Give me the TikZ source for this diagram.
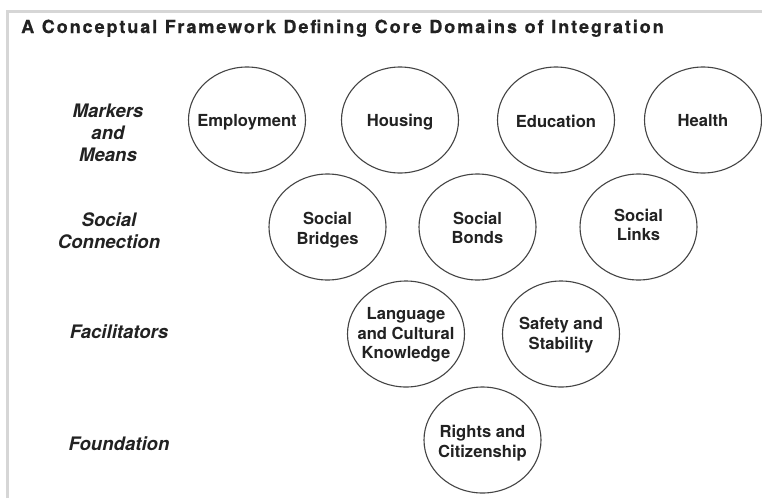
\documentclass[tikz,border=0pt]{standalone}
\usepackage{fontspec}
\setmainfont{TeX Gyre Heros}
\newfontfamily\titlefont[LetterSpace=10.8,WordSpace=1.1,FakeBold=0.6]{TeX Gyre Heros}
\usetikzlibrary{shapes.geometric}
\definecolor{ink}{HTML}{222222}
\definecolor{rim}{HTML}{444444}
\definecolor{frame}{HTML}{D6D6D6}
\tikzset{
  corebubble/.style={ellipse, draw=rim, line width=1.1pt, inner sep=0pt,
    minimum width=117pt, minimum height=106pt},
  bubbletext/.style={align=center, text=ink, inner sep=0pt, yshift=-2pt,
    font=\fontsize{16.6}{19.6}\selectfont\bfseries},
  tierlabel/.style={align=center, text=ink, inner sep=0pt,
    font=\fontsize{18.6}{22}\selectfont\bfseries\itshape},
  heading/.style={anchor=base west, text=ink, inner sep=0pt,
    font=\titlefont\fontsize{18}{22}\selectfont\bfseries}
}
\begin{document}
\begin{tikzpicture}[x=1pt,y=-1pt]
\useasboundingbox (0,0) rectangle (762,498);
\fill[white] (0,0) rectangle (762,498);
% page frame along the top and left edges
\draw[frame, line width=3pt] (7.5,498) -- (7.5,11.5) -- (762,11.5);

\node[heading] (title) at (21,33) {A Conceptual Framework Defining Core Domains of Integration};

% tier labels
\node[tierlabel] (markers) at (108,133) {Markers\\and\\Means};
\node[tierlabel] (social) at (109,230.5) {Social\\Connection};
\node[tierlabel] (facil) at (119,331.5) {Facilitators};
\node[tierlabel] (found) at (119,443.5) {Foundation};

% markers and means
\node[corebubble, label={[bubbletext]center:Employment}] (employment) at (247,120) {};
\node[corebubble, label={[bubbletext]center:Housing}] (housing) at (400,120) {};
\node[corebubble, label={[bubbletext, yshift=1pt]center:Education}] (education) at (556,120) {};
\node[corebubble, label={[bubbletext, yshift=1pt]center:Health}] (health) at (703,120) {};

% social connection
\node[corebubble, label={[bubbletext, yshift=-1pt]center:Social\\Bridges}] (bridges) at (327.5,227) {};
\node[corebubble, label={[bubbletext, yshift=1pt]center:Social\\Bonds}] (bonds) at (477.5,227) {};
\node[corebubble, label={[bubbletext, yshift=4pt]center:Social\\Links}] (links) at (638.5,227) {};

% facilitators
\node[corebubble, label={[bubbletext, yshift=1pt]center:Language\\and Cultural\\Knowledge}] (language) at (406,334) {};
\node[corebubble, label={[bubbletext, yshift=1pt]center:Safety and\\Stability}] (safety) at (561,334) {};

% foundation
\node[corebubble, label={[bubbletext, yshift=-1pt]center:Rights and\\Citizenship}] (rights) at (482.5,440) {};
\end{tikzpicture}
\end{document}
